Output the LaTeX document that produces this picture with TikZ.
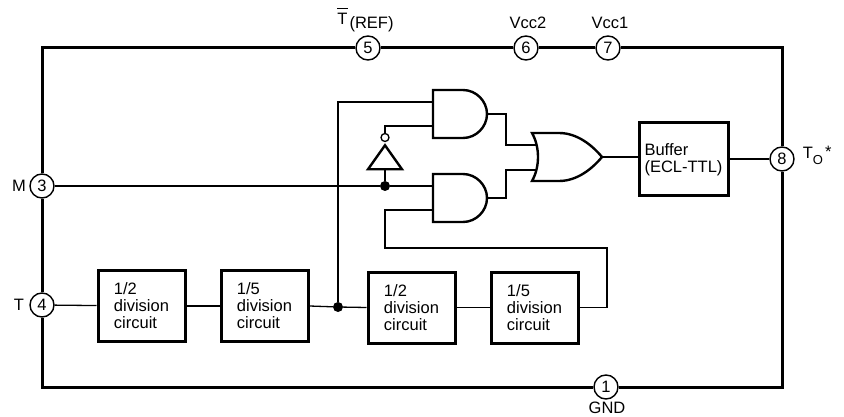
\documentclass[tikz,border=0pt]{standalone}
\usepackage{fontspec}
\setmainfont{Liberation Sans}
\usepackage{tikz}
\usetikzlibrary{positioning,shapes.geometric}
\tikzset{
  frame/.style={line width=3pt},
  wire/.style={line width=1.3pt},
  gateline/.style={line width=2.4pt, line join=miter},
  pin/.style={circle, draw, line width=1.4pt, fill=white, minimum size=24pt, inner sep=0pt, font=\fontsize{16.5}{17}\selectfont},
  divbox/.style={draw, line width=3pt, minimum width=87pt, minimum height=71pt, inner sep=0pt, align=left, font=\fontsize{16.5}{17}\selectfont},
  lbl/.style={font=\fontsize{16.5}{17}\selectfont, inner sep=0pt},
  dot/.style={circle, fill=black, minimum size=10pt, inner sep=0pt},
  andgate/.pic={
    \draw[gateline] (-27,-24) -- (3,-24) .. controls (16,-24) and (27,-13) .. (27,0)
      .. controls (27,13) and (16,24) .. (3,24) -- (-27,24) -- cycle;
    \coordinate (-in1) at (-27,-12);
    \coordinate (-in2) at (-27,12);
    \coordinate (-out) at (27,0);
  },
  orgate/.pic={
    \draw[gateline] (-35,-24) -- (-8,-24) .. controls (10,-24) and (25,-12) .. (35,0)
      .. controls (25,12) and (10,24) .. (-8,24) -- (-35,24)
      .. controls (-27,10) and (-27,-10) .. (-35,-24) -- cycle;
    \coordinate (-in1) at (-31,-12);
    \coordinate (-in2) at (-31,13);
    \coordinate (-out) at (35,0);
  },
}
\begin{document}
\begin{tikzpicture}[x=1pt,y=-1pt]
  \useasboundingbox (0,0) rectangle (844,417);
  % pins on the frame
  \node[pin] (pin3) at (42,186) {3};
  \node[pin] (pin4) at (42,305) {4};
  \node[pin] (pin5) at (368,48) {5};
  \node[pin] (pin6) at (526,48) {6};
  \node[pin] (pin7) at (608,48) {7};
  \node[pin] (pin8) at (782,159) {8};
  \node[pin] (pin1) at (606,387) {1};

  % pin labels
  \node[lbl] (lblM) at (19,186) {M};
  \node[lbl] (lblT) at (19,305) {T};
  \node[lbl] (lblRef) at (365.5,20) {$\overline{\mbox{\rule{0pt}{14.5pt}T}}$\hspace{2pt}\raisebox{-4.5pt}{(REF)}};
  \node[lbl] (lblVa) at (528,23) {Vcc2};
  \node[lbl] (lblVb) at (610,23) {Vcc1};
  \node[lbl, right=8pt of pin8, yshift=4pt] (lblOut) {T\raisebox{-6pt}{\fontsize{13}{14}\selectfont O}\hspace{2pt}\raisebox{1pt}{*}};
  \node[lbl] (lblGnd) at (607,408) {GND};

  % divider chain
  \node[divbox] (div1) at (141.5,306) {1/2\\division\\circuit};
  \node[divbox, right=33pt of div1] (div2) {1/5\\division\\circuit};
  \node[divbox] (div3) at (411.5,307.5) {1/2\\division\\circuit};
  \node[divbox, right=33pt of div3] (div4) {1/5\\division\\circuit};

  % gates
  \pic (andA) at (460,114) {andgate};
  \pic (andB) at (460,198) {andgate};
  \pic (orG) at (567,157) {orgate};
  \node[isosceles triangle, shape border rotate=90, isosceles triangle stretches, draw, line width=2.4pt, minimum width=34pt, minimum height=24pt, inner sep=0pt] (inv) at (385,160.5) {};
  \node[circle, draw, line width=1.3pt, fill=white, minimum size=8pt, inner sep=0pt, above=0pt of inv.apex] (invB) {};
  \node[divbox, minimum width=89pt, minimum height=73pt] (buf) at (683.5,159.5) {Buffer\\(ECL-TTL)};

  % junctions
  \node[dot] (jM) at (385,186) {};
  \node[dot] (jClk) at (338,307) {};
  \coordinate (fbTop) at (607,248);
  \coordinate (fbEnd) at (385,210);

  % frame
  \draw[frame] (pin3) |- (pin5);
  \draw[frame] (pin5) -- (pin6);
  \draw[frame] (pin6) -- (pin7);
  \draw[frame] (pin7) -| (pin8);
  \draw[frame] (pin3) -- (pin4);
  \draw[frame] (pin4) |- (pin1);
  \draw[frame] (pin1) -| (pin8);

  \draw[wire] (pin3) -- (jM);
  \draw[wire] (jM) -- (andB-in1);
  \draw[wire] (jM) -- (inv.south);
  \draw[wire] (invB.north) |- (andA-in2);
  \draw[wire] (pin4) -- (div1);
  \draw[wire] (div1) -- (div2);
  \draw[wire] (div2.east) -- (jClk);
  \draw[wire] (jClk) -- (div3.west);
  \draw[wire] (div3) -- (div4);
  \draw[wire] (jClk) |- (andA-in1);
  \draw[wire] (div4.east) -| (fbTop) -| (fbEnd) -- (andB-in2);
  \draw[wire] (andA-out) -- ++(19,0) |- (orG-in1);
  \draw[wire] (andB-out) -- ++(19,0) |- (orG-in2);
  \draw[wire] (orG-out) -- (buf.west |- orG-out);
  \draw[wire] (buf.east |- pin8) -- (pin8);
\end{tikzpicture}
\end{document}
